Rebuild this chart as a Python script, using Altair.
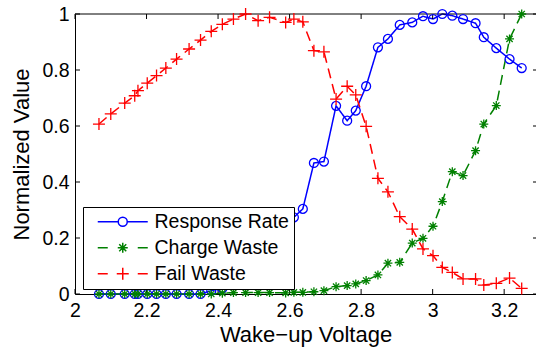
import altair as alt
import pandas as pd

voltage = [2.067, 2.100, 2.139, 2.167, 2.176, 2.202, 2.228, 2.254, 2.284, 2.319,
           2.351, 2.381, 2.412, 2.443, 2.477, 2.512, 2.544, 2.589, 2.612, 2.637,
           2.668, 2.696, 2.730, 2.761, 2.785, 2.814, 2.847, 2.875, 2.908, 2.943,
           2.973, 3.001, 3.027, 3.055, 3.085, 3.120, 3.143, 3.178, 3.215, 3.249]
response_rate = [0, 0, 0, 0, 0, 0, 0, 0, 0, 0,
                 0, 0.012, 0.02, 0.05, 0.09, 0.14, 0.19, 0.25, 0.274, 0.304,
                 0.468, 0.473, 0.672, 0.619, 0.655, 0.742, 0.881, 0.911, 0.961, 0.970,
                 0.992, 0.982, 1.0, 0.994, 0.982, 0.967, 0.917, 0.878, 0.839, 0.807]
charge_waste = [0, 0, 0, 0, 0, 0, 0, 0, 0, 0,
                0, 0, 0.003, 0.005, 0.005, 0.005, 0.005, 0.004, 0.006, 0.006,
                0.008, 0.012, 0.026, 0.030, 0.036, 0.048, 0.068, 0.110, 0.113, 0.182,
                0.199, 0.242, 0.330, 0.437, 0.423, 0.512, 0.607, 0.673, 0.911, 1.0]
fail_waste = [0.607, 0.643, 0.682, 0.708, 0.726, 0.753, 0.780, 0.807, 0.839, 0.875,
              0.907, 0.938, 0.963, 0.982, 1.0, 0.976, 0.988, 0.970, 0.982, 0.972,
              0.869, 0.865, 0.696, 0.742, 0.711, 0.599, 0.413, 0.365, 0.276, 0.232,
              0.161, 0.137, 0.095, 0.077, 0.054, 0.054, 0.032, 0.038, 0.057, 0.020]

series_names = ["Response Rate", "Charge Waste", "Fail Waste"]
series_colors = ["#0000ff", "#008000", "#ff0000"]
x_ticks = [2, 2.2, 2.4, 2.6, 2.8, 3, 3.2]
y_ticks = [0, 0.2, 0.4, 0.6, 0.8, 1]

rows = []
for name, vals in zip(series_names, [response_rate, charge_waste, fail_waste]):
    for v, val in zip(voltage, vals):
        rows.append({"v": v, "value": val, "series": name})
df = pd.DataFrame(rows)
xt = pd.DataFrame({"t": x_ticks})
yt = pd.DataFrame({"t": y_ticks})
frame_top = pd.DataFrame({"t": [1]})

FONT = "Liberation Sans"
W, H = 461, 280
TICK = 5

xscale = alt.Scale(domain=[2, 3.289], nice=False, zero=False)
yscale = alt.Scale(domain=[0, 1], nice=False, zero=False)
color_scale = alt.Scale(domain=series_names, range=series_colors)

x_axis = alt.Axis(values=x_ticks, format="~g", ticks=False, grid=False,
                  labelFont=FONT, labelFontSize=19.5, labelColor="black",
                  labelPadding=7, labelFlush=False, labelOverlap=False,
                  title="Wake\u2212up Voltage", titleFont=FONT, titleFontSize=22,
                  titleFontWeight="normal", titleColor="black", titlePadding=5,
                  domainColor="black", domainWidth=1)
y_axis = alt.Axis(values=y_ticks, format="~g", ticks=False, grid=False,
                  labelFont=FONT, labelFontSize=19.5, labelColor="black",
                  labelPadding=6, labelFlush=False, labelOverlap=False,
                  title="Normalized Value", titleFont=FONT, titleFontSize=22,
                  titleFontWeight="normal", titleColor="black", titlePadding=8,
                  domainColor="black", domainWidth=1)

PLUS = "M-1,0L1,0M0,-1L0,1"
STAR = "M-1,0L1,0M0,-1L0,1M-0.7,-0.7L0.7,0.7M-0.7,0.7L0.7,-0.7"


def series_line(name, color, dash, first=False):
    enc_x = alt.X("v:Q", scale=xscale, axis=x_axis) if first else alt.X("v:Q", scale=xscale)
    enc_y = alt.Y("value:Q", scale=yscale, axis=y_axis) if first else alt.Y("value:Q", scale=yscale)
    return alt.Chart(df).transform_filter(alt.datum.series == name).mark_line(
        strokeWidth=1.5, color=color, strokeDash=dash
    ).encode(x=enc_x, y=enc_y)


def markers(name, shape, size, color):
    return alt.Chart(df).transform_filter(alt.datum.series == name).mark_point(
        shape=shape, size=size, filled=False, color=color, strokeWidth=1.3, opacity=1
    ).encode(
        x=alt.X("v:Q", scale=xscale),
        y=alt.Y("value:Q", scale=yscale),
    )


l_resp = series_line("Response Rate", "#0000ff", [1, 0], first=True)
l_charge = series_line("Charge Waste", "#008000", [10, 6])
l_fail = series_line("Fail Waste", "#ff0000", [10, 6])
m_resp = markers("Response Rate", "circle", 80, "#0000ff")
m_charge = markers("Charge Waste", STAR, 81, "#008000")
m_fail = markers("Fail Waste", PLUS, 144, "#ff0000")

legend_paths = [
    "M0,0L4.1,0M5.9,0L10,0M4.1,0A0.9,0.9 0 1,1 5.9,0A0.9,0.9 0 1,1 4.1,0",
    "M0,0L2,0M8,0L10,0M4,0L6,0M5,-1L5,1M4.3,-0.7L5.7,0.7M4.3,0.7L5.7,-0.7",
    "M0,0L2,0M8,0L10,0M3.8,0L6.2,0M5,-1.2L5,1.2",
]
leg = alt.Legend(orient="none", legendX=8, legendY=193, title=None,
                 fillColor="white", strokeColor="black", padding=5,
                 labelFont=FONT, labelFontSize=19.5, labelColor="black",
                 labelOffset=47, rowPadding=5, symbolSize=100,
                 symbolStrokeWidth=1.5, labelLimit=300)

legend_layer = alt.Chart(df).transform_filter("datum.value > 5").mark_point(
    filled=False, opacity=1, size=100, strokeWidth=1.5
).encode(
    x=alt.X("v:Q", scale=xscale),
    y=alt.Y("value:Q", scale=yscale),
    color=alt.Color("series:N", scale=color_scale, legend=leg),
    shape=alt.Shape("series:N", scale=alt.Scale(domain=series_names, range=legend_paths), legend=leg),
)

tick_bottom = alt.Chart(xt).mark_rule(color="black", strokeWidth=1).encode(
    x=alt.X("t:Q", scale=xscale), y=alt.value(H), y2=alt.value(H - TICK))
tick_top = alt.Chart(xt).mark_rule(color="black", strokeWidth=1).encode(
    x=alt.X("t:Q", scale=xscale), y=alt.value(0), y2=alt.value(TICK))
tick_left = alt.Chart(yt).mark_rule(color="black", strokeWidth=1).encode(
    y=alt.Y("t:Q", scale=yscale), x=alt.value(0), x2=alt.value(TICK))
tick_right = alt.Chart(yt).mark_rule(color="black", strokeWidth=1).encode(
    y=alt.Y("t:Q", scale=yscale), x=alt.value(W - 3), x2=alt.value(W))
top_line = alt.Chart(frame_top).mark_rule(color="black", strokeWidth=1).encode(
    y=alt.Y("t:Q", scale=yscale), x=alt.value(0), x2=alt.value(W))

chart = alt.layer(
    l_resp, l_charge, l_fail, tick_bottom, tick_top, tick_left, tick_right, top_line,
    m_resp, m_charge, m_fail, legend_layer
).properties(
    width=W, height=H,
    autosize=alt.AutoSizeParams(type="none"),
    padding={"left": 75, "top": 14, "right": 0, "bottom": 54},
    background="white",
).configure_view(stroke=None)

chart.save("out.html", embed_options={"renderer": "svg", "actions": False})
